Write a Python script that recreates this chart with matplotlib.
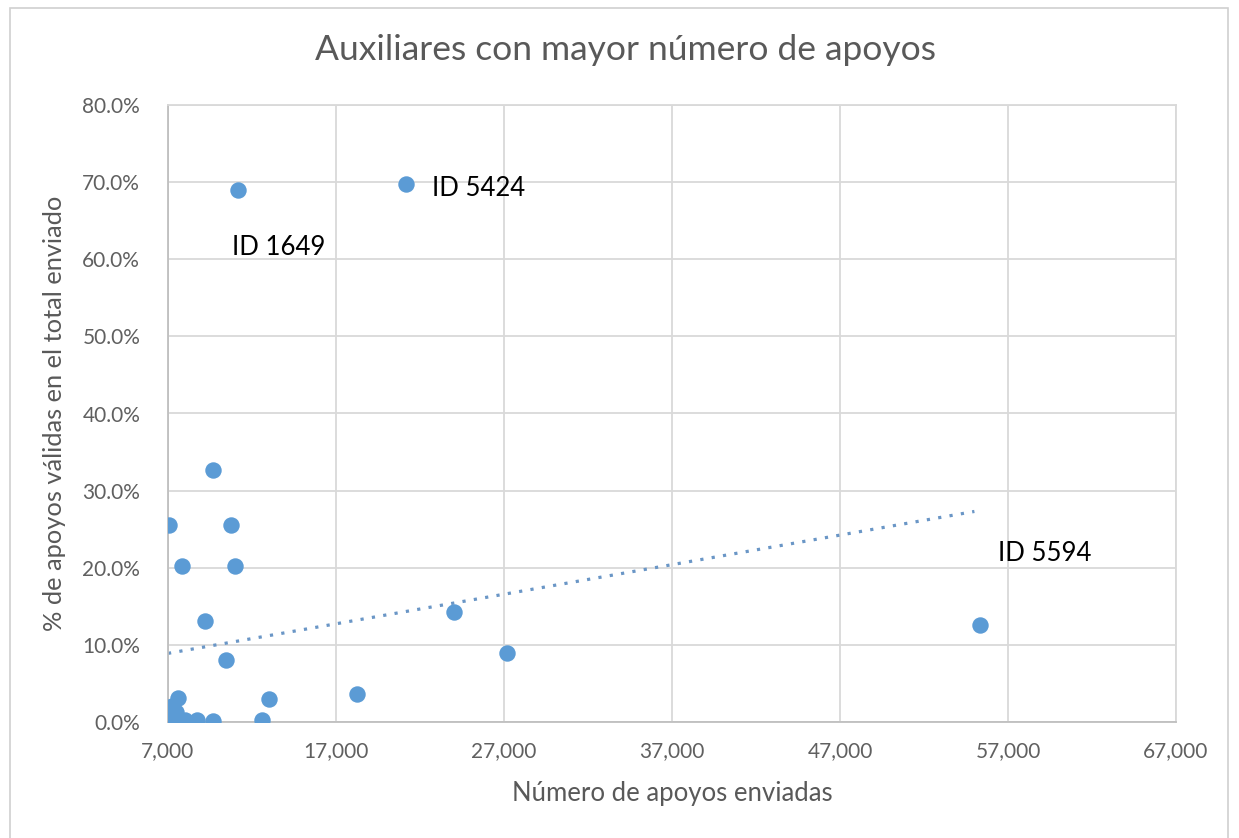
import matplotlib.pyplot as plt
from matplotlib.patches import Rectangle
from matplotlib.ticker import FuncFormatter

# Número de apoyos enviadas vs % de apoyos válidas
apoyos_enviados = [11170, 21170, 55330, 9680, 7060, 10750, 7830, 10990, 9200,
                   24020, 10450, 27180, 13010, 18250, 7600, 7240, 12600, 9680,
                   8730, 8010, 7000, 7150, 7350, 7500, 7100, 7450]
pct_validas = [69.0, 69.8, 12.6, 32.7, 25.5, 25.5, 20.2, 20.2, 13.1,
               14.3, 8.0, 8.9, 3.0, 3.6, 3.1, 2.1, 0.3, 0.1,
               0.3, 0.3, 0.2, 0.3, 0.1, 0.4, 0.9, 1.3]

# linear trend line as drawn by the spreadsheet
tendencia_x = [7000, 55000]
tendencia_y = [8.9, 27.3]

# labelled points
etiquetas = ["ID 1649", "ID 5424", "ID 5594"]
etiqueta_x = [10810, 22714, 56405]
etiqueta_y = [61.5, 69.2, 21.9]

x_ticks = list(range(7000, 67001, 10000))
y_ticks = list(range(0, 81, 10))

plt.rcParams['font.family'] = ['Lato', 'DejaVu Sans']
gris = '#595959'
azul = '#5B9BD5'

fig = plt.figure(figsize=(12.39, 8.38), dpi=100)
ax = fig.add_axes([168 / 1239, 1 - 722 / 838, (1176 - 168) / 1239, (722 - 105) / 838])

# outer chart frame
fig.patches.append(Rectangle((10 / 1239, -0.01), 1218 / 1239, 1 - 8 / 838 + 0.01,
                             transform=fig.transFigure, fill=False,
                             edgecolor='#D0D0D0', linewidth=1.2))

ax.scatter(apoyos_enviados, pct_validas, s=140, color=azul, zorder=3, linewidths=0)

# dotted trend line
ax.plot(tendencia_x, tendencia_y, linestyle=(0, (1, 2.6)),
        color='#6A96C6', linewidth=2.3, zorder=2)

for t, tx, ty in zip(etiquetas, etiqueta_x, etiqueta_y):
    ax.text(tx, ty, t, fontsize=18.5, color='black', va='center', ha='left')

ax.set_xlim(7000, 67000)
ax.set_ylim(0, 80)
ax.set_xticks(x_ticks)
ax.set_yticks(y_ticks)
ax.xaxis.set_major_formatter(FuncFormatter(lambda v, p: f"{int(v):,}"))
ax.yaxis.set_major_formatter(FuncFormatter(lambda v, p: f"{v:.1f}%"))
ax.tick_params(axis='both', length=0, labelsize=15, labelcolor='#606060')
ax.tick_params(axis='x', pad=14)
ax.tick_params(axis='y', pad=20)

ax.grid(True, color='#D9D9D9', linewidth=1.3)
ax.set_axisbelow(True)
for side in ['top', 'right']:
    ax.spines[side].set_color('#D9D9D9')
    ax.spines[side].set_linewidth(1.3)
for side in ['left', 'bottom']:
    ax.spines[side].set_color('#BFBFBF')
    ax.spines[side].set_linewidth(1.3)

ax.set_xlabel('Número de apoyos enviadas', fontsize=18.5, color=gris, labelpad=14)
ax.set_ylabel('% de apoyos válidas en el total enviado', fontsize=18.3, color=gris, labelpad=12)
fig.text(625 / 1239, 1 - 50 / 838, 'Auxiliares con mayor número de apoyos',
         fontsize=25.5, color=gris, ha='center', va='center')

fig.savefig('out.png', dpi=100, facecolor='white')
